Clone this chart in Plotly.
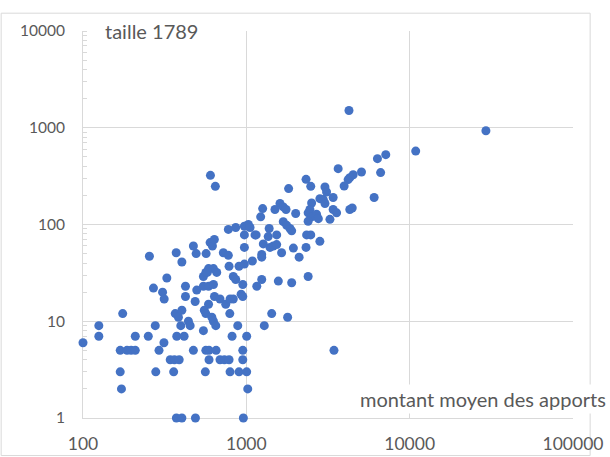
import plotly.graph_objects as go

# montant moyen des apports (x) / taille 1789 (y)
apports = [
    100, 125, 125, 175, 169, 186, 197, 209, 169, 172, 209, 251, 277, 292, 279, 313,
    270, 307, 314, 326, 342, 363, 388, 359, 373, 403, 488, 959,
    367, 384, 403, 397, 375, 416, 442, 453, 474,
    424, 424, 497, 486, 546, 587, 629, 587,
    553, 565, 615, 629, 650, 546, 565, 591, 653, 591, 561,
    638, 690, 748, 795, 832, 792, 886, 818,
    690, 734, 784, 795, 902, 1005, 951, 951, 1005, 1020,
    929, 951, 1159,
    603, 646, 255, 372, 403, 474, 493, 567, 600, 620, 637, 723, 776, 776, 861,
    973, 1029, 1054, 973, 1130, 973, 784, 902, 973, 1089,
    546, 565, 587, 629, 659, 832, 861, 951,
    10890, 7140, 6350, 6640, 3650, 5070, 4510, 4300, 4200, 3970, 6060,
    2320, 2480, 1815, 3030, 3100, 2820, 2960, 3400, 3030, 2510, 2450, 2390,
    2510, 2690, 2760, 2390, 3250, 3400, 3570, 4300, 4450, 2005,
    1607, 1683, 1497, 1750, 1259, 1224, 1683, 1766, 1850, 1895, 1380,
    1148, 1361, 1534, 2340, 2480, 2820, 1270, 1462, 1396, 1534,
    1644, 1941, 2320, 2105, 1242, 1242, 2390, 1895, 1570, 1242,
    3440, 1430, 1790, 1288, 4250, 29300, 577,
]
taille = [
    6, 9, 7, 12, 5, 5, 5, 5, 3, 2, 7, 7, 9, 5, 3, 6,
    22, 20, 17, 28, 4, 4, 4, 3, 1, 1, 1, 1,
    12, 11, 13, 9, 7, 7, 10, 9, 5,
    23, 18, 21, 16, 23, 23, 24, 15,
    13, 12, 11, 10, 9, 8, 5, 5, 5, 4, 3,
    18, 17, 15, 17, 17, 12, 9, 7,
    4, 4, 4, 3, 3, 3, 5, 4, 7, 2,
    19, 18, 23,
    322, 248, 47, 51, 41, 60, 50, 50, 65, 60, 70, 51, 48, 89, 93,
    96, 100, 93, 78, 78, 58, 37, 37, 39, 42,
    29, 32, 35, 35, 32, 29, 27, 24,
    574, 527, 479, 344, 378, 349, 327, 305, 291, 250, 190,
    293, 248, 235, 244, 217, 185, 181, 190, 165, 167, 143, 132,
    120, 128, 115, 108, 113, 143, 132, 143, 148, 130,
    165, 152, 143, 143, 146, 120, 107, 98, 91, 86, 91,
    78, 75, 78, 78, 78, 67, 63, 60, 58, 62,
    51, 57, 58, 46, 49, 46, 29, 25, 26, 27,
    5, 12, 11, 9, 1508, 931, 32,
]

x_ticks = [100, 1000, 10000, 100000]
y_ticks = [1, 10, 100, 1000, 10000]

grey = "#d9d9d9"
txt = "#595959"
fnt = "Lato"

fig = go.Figure()
fig.add_trace(go.Scatter(
    x=apports, y=taille, mode="markers",
    marker=dict(color="#4472c4", size=9),
    cliponaxis=False,
    hoverinfo="x+y",
))

fig.update_layout(
    width=610, height=457,
    margin=dict(l=83, r=37, t=31, b=39, autoexpand=False),
    plot_bgcolor="white", paper_bgcolor="white",
    showlegend=False,
    font=dict(family=fnt, size=17, color=txt),
)
fig.update_xaxes(
    type="log", range=[2, 5],
    tickvals=x_ticks, ticktext=[str(v) for v in x_ticks],
    tickfont=dict(size=17.5),
    showgrid=True, gridcolor=grey, gridwidth=1,
    showline=True, linecolor=grey, linewidth=1,
    ticks="outside", ticklen=10, tickcolor="rgba(0,0,0,0)",
    zeroline=False, layer="below traces",
)
fig.update_yaxes(
    type="log", range=[0, 4],
    tickvals=y_ticks, ticktext=[str(v) for v in y_ticks],
    tickfont=dict(size=15.5),
    showgrid=True, gridcolor=grey, gridwidth=1,
    showline=True, linecolor=grey, linewidth=1,
    ticks="outside", ticklen=14, tickcolor="rgba(0,0,0,0)",
    minor=dict(ticks="inside", ticklen=4, tickcolor=grey, dtick="D1", showgrid=False),
    zeroline=False, layer="below traces",
)

fig.add_annotation(
    text="taille 1789", xref="paper", yref="paper",
    x=0.038, y=1.0, xanchor="left", yanchor="middle",
    showarrow=False, bgcolor="white", borderpad=2,
    font=dict(family=fnt, size=20, color=txt),
)
fig.add_annotation(
    text="montant moyen des apports", xref="paper", yref="paper",
    x=1.073, y=0.05, xanchor="right", yanchor="middle",
    showarrow=False, bgcolor="white", borderpad=2,
    font=dict(family=fnt, size=20, color=txt),
)

# chart area border
fig.add_shape(
    type="rect", xref="paper", yref="paper",
    x0=-0.167, x1=1.035, y0=-0.097, y1=1.046,
    line=dict(color=grey, width=1), layer="below",
)

# page body has a default 8px margin; drop it so the figure sits at 0,0
fig.write_html("out.html", config={"displayModeBar": False},
               post_script="document.body.style.margin='0';")
